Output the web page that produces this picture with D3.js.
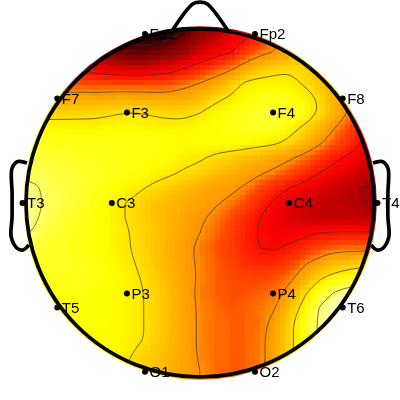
<!DOCTYPE html>
<html>
<head>
<meta charset="utf-8">
<script src="https://cdn.jsdelivr.net/npm/d3@7/dist/d3.min.js"></script>
<style>
html,body{margin:0;padding:0;background:#fff;}
#wrap{position:relative;width:400px;height:400px;overflow:hidden;}
canvas,svg{position:absolute;left:0;top:0;}
text{font-family:"Liberation Sans",Arial,sans-serif;}
</style>
</head>
<body>
<div id="wrap"><canvas id="heat" width="400" height="400"></canvas><svg id="chart" width="400" height="400"></svg></div>
<script>
// Electrodes, in head units (head radius = 1, nose up)
const channelNames = ["Fp1","Fp2","F7","F3","F4","F8","T3","C3","C4","T4","T5","P3","P4","T6","O1","O2"];
const channelX = [-0.316,0.316,-0.82,-0.42,0.42,0.82,-1.02,-0.507,0.512,1.02,-0.82,-0.42,0.42,0.82,-0.316,0.316];
const channelY = [0.971,0.971,0.60,0.52,0.52,0.60,0,0,0,0,-0.60,-0.52,-0.52,-0.60,-0.97,-0.97];

// Map level (0 white ... 100 black), rows front to back, columns left to right
const mapValues = [
[40,42,46,52,60,85,92,96,98,100,100,94,84,78,72,64,56,48,42,38,34,30,30,30,30],
[35,40,50,60,70,78,86,92,96,95,91,83,76,71,66,61,56,49,43,38,34,30,30,30,30],
[40,45,52,60,68,76,80,84,85,82,79,75,68,63,60,52,47,44,41,37,33,30,30,30,30],
[40,45,50,55,62,64,67,68,69,67,65,60,56,51,47,41,36,33,31,33,37,40,42,44,45],
[44,46,48,50,51,52,52,52,52,52,51,48,45,41,36,29,27,27,28,31,36,41,44,46,48],
[44,43,42,42,41,41,40,40,40,41,41,40,37,32,29,26,24,23,24,27,31,39,45,47,49],
[34,34,33,33,32,32,31,30,30,31,32,32,30,27,25,23,21,20,21,24,31,38,46,52,55],
[24,25,26,26,27,27,26,26,26,27,27,27,26,25,24,23,22,23,27,32,38,45,52,61,65],
[22,22,23,24,24,24,24,24,24,24,25,26,25,25,25,26,27,29,32,38,44,50,55,61,66],
[20,20,21,22,23,23,23,24,24,25,26,28,29,32,34,36,38,41,44,48,53,58,62,66,69],
[17,17,19,20,21,22,23,24,25,27,29,31,33,36,39,42,44,47,51,55,60,64,67,71,73],
[12,14,17,19,21,23,25,27,29,32,34,37,40,42,43,46,52,56,60,64,67,70,72,76,79],
[9,13,17,19,21,24,27,30,33,36,38,40,42,44,47,51,56,62,66,69,71,72,73,75,80],
[9,14,18,21,23,25,27,30,33,36,39,42,44,47,51,56,60,65,68,70,71,71,71,72,74],
[13,16,20,22,23,25,27,29,32,35,38,42,45,48,52,57,61,64,64,62,60,59,59,59,59],
[20,20,22,23,24,25,27,29,32,36,40,43,47,50,53,57,60,61,58,55,51,48,48,48,48],
[22,22,22,22,23,24,26,28,31,35,39,43,46,49,52,55,57,56,53,46,41,37,35,33,32],
[23,23,23,23,23,24,25,27,30,34,38,42,46,49,51,52,52,50,47,39,31,26,23,21,20],
[24,24,24,24,24,25,26,27,29,33,37,42,47,49,50,50,49,48,41,31,21,14,9,9,9],
[25,25,25,25,25,25,26,27,29,33,37,42,46,48,50,49,47,45,36,26,14,6,3,3,4],
[25,25,25,25,25,25,26,27,29,33,37,42,46,48,49,49,48,42,32,23,13,6,4,4,4],
[26,26,26,26,26,26,26,27,29,33,37,42,46,48,49,49,47,41,32,23,13,8,6,6,6],
[26,26,26,26,26,26,26,28,32,35,38,42,46,48,49,49,47,41,32,23,14,10,8,8,8],
[27,27,27,27,27,27,27,30,33,36,39,42,45,48,49,49,47,41,32,24,16,12,10,10,10],
[27,27,27,27,27,27,28,31,34,37,40,43,45,48,49,49,47,41,33,25,18,14,12,12,12]
];
const contourLevels = [15,30,45,60,75,90];
const fillLevels = d3.range(0,101,1);

// Head outline decorations in head units
const noseShape = [[-0.16,0.99],[-0.04,1.145],[0,1.155],[0.04,1.145],[0.16,0.99]];
const earShape = [[0.994,0.23],[1.046,0.238],[1.08,0.20],[1.08,0.06],[1.08,-0.08],[1.085,-0.195],[1.052,-0.259],[1.017,-0.27],[0.983,-0.241]];

const cx = 200, cy = 203, R = 174;
const headX = d3.scaleLinear().domain([-1,1]).range([cx-R,cx+R]);
const headY = d3.scaleLinear().domain([-1,1]).range([cy+R,cy-R]);
const nCols = mapValues[0].length, nRows = mapValues.length;
const gridX = d3.scaleLinear().domain([0.5,nCols-0.5]).range([20,380]);
const gridY = d3.scaleLinear().domain([0.5,nRows-0.5]).range([23,383]);
const hotPosition = d3.scaleLinear().domain([0,30,45,50,60,75,100]).range([0,30,42,52,62,76,100]);
const hotRamp = d3.scaleLinear().domain([0,25.4,63.5,100]).range(["#ffffff","#ffff00","#ff0000","#000000"]).clamp(true);
const colour = v => hotRamp(hotPosition(v));

const flat = mapValues.flat();
const contourGen = d3.contours().size([nCols,nRows]).smooth(true);
const ringLine = d3.line().x(p=>gridX(p[0])).y(p=>gridY(p[1])).curve(d3.curveBasisClosed);
const rings = c => c.coordinates.flat();

// Raster map: contour bands painted on a coarse buffer, enlarged without smoothing
const cell = 5;
const buffer = document.createElement("canvas");
buffer.width = 400/cell; buffer.height = 400/cell;
const bctx = buffer.getContext("2d");
bctx.fillStyle = colour(0);
bctx.fillRect(0,0,buffer.width,buffer.height);
bctx.scale(1/cell,1/cell);
ringLine.context(bctx);
contourGen.thresholds(fillLevels)(flat).forEach(c=>{
  bctx.beginPath();
  rings(c).forEach(r=>ringLine(r.slice(0,-1)));
  bctx.fillStyle = colour(c.value);
  bctx.fill();
});
ringLine.context(null);
const ctx = document.getElementById("heat").getContext("2d");
ctx.save();
ctx.beginPath(); ctx.arc(cx,cy,R+2.8,0,2*Math.PI); ctx.clip();
ctx.imageSmoothingEnabled = false;
ctx.drawImage(buffer,0,0,400,400);
ctx.restore();

const svg = d3.select("#chart");
svg.append("clipPath").attr("id","disc").append("circle").attr("cx",cx).attr("cy",cy).attr("r",R);

svg.append("g").attr("clip-path","url(#disc)").selectAll("path")
  .data(contourGen.thresholds(contourLevels)(flat)).join("path")
  .attr("d",c=>rings(c).map(r=>ringLine(r.slice(0,-1))).join(""))
  .attr("fill","none").attr("stroke","#333").attr("stroke-opacity",0.85).attr("stroke-width",0.8);

const line = d3.line().x(d=>headX(d[0])).y(d=>headY(d[1])).curve(d3.curveCatmullRom.alpha(0.5));
const head = svg.append("g").attr("fill","none").attr("stroke","#000").attr("stroke-width",3.7).attr("stroke-linejoin","round");
head.append("path").attr("d",line(noseShape));
head.append("path").attr("d",line(earShape));
head.append("path").attr("d",line(earShape.map(p=>[-p[0],p[1]])));
head.append("circle").attr("cx",cx).attr("cy",cy).attr("r",R);

const chan = svg.append("g").selectAll("g").data(channelNames).join("g")
  .attr("transform",(d,i)=>`translate(${headX(channelX[i])},${headY(channelY[i])})`);
chan.append("circle").attr("r",3).attr("fill","#000");
chan.append("text").attr("x",4.5).attr("dy","0.36em").attr("font-size",15).attr("fill","#000").text(d=>d);
</script>
</body>
</html>
